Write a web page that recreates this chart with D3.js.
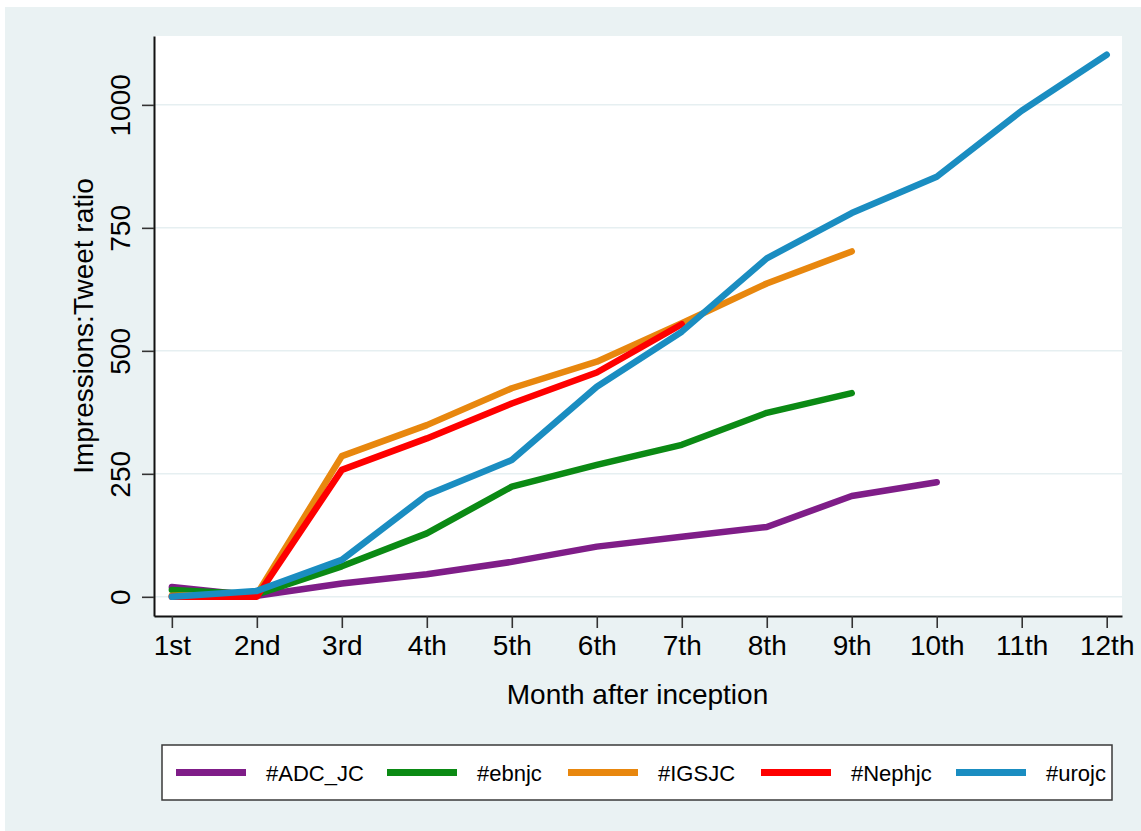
<!DOCTYPE html>
<html>
<head>
<meta charset="utf-8">
<script src="https://cdn.jsdelivr.net/npm/d3@7"></script>
<style>
    body { margin: 0; background: #fff; }
    svg { display: block; font-family: "Liberation Sans", Arial, Helvetica, sans-serif; }
    .line { fill: none; stroke-width: 6.5; stroke-linecap: round; stroke-linejoin: round; }
    .grid line { stroke: #e6eff1; stroke-width: 1.5; }
</style>
</head>
<body>
<svg id="chart" width="1141" height="831"></svg>
<script>
const months = ["1st", "2nd", "3rd", "4th", "5th", "6th", "7th", "8th", "9th", "10th", "11th", "12th"];
const yTicks = [0, 250, 500, 750, 1000];

const seriesNames = ["#ADC_JC", "#ebnjc", "#IGSJC", "#Nephjc", "#urojc"];
const seriesColors = ["#7f1d88", "#0b8a14", "#e8870e", "#fe0000", "#1a8dc1"];

const adcValues = [20, 2, 27, 46, 71, 102, 122, 142, 205, 233];
const ebnjcValues = [14, 5, 62, 129, 224, 268, 309, 374, 414];
const igsjcValues = [2, 5, 286, 349, 424, 478, 556, 637, 702];
const nephjcValues = [0, 0, 258, 322, 393, 456, 554];
const urojcValues = [0, 12, 75, 207, 278, 427, 539, 688, 780, 854, 988, 1102];

const seriesValues = [adcValues, ebnjcValues, igsjcValues, nephjcValues, urojcValues];

const svg = d3.select("#chart"),
    plot = { left: 154, right: 1122, top: 36, bottom: 616 };

// outer grey graph region
svg.append("rect")
    .attr("x", 5).attr("y", 7)
    .attr("width", 1141 - 5).attr("height", 831 - 7)
    .attr("fill", "#eaf2f3");

svg.append("rect")
    .attr("x", plot.left).attr("y", plot.top)
    .attr("width", plot.right - plot.left).attr("height", plot.bottom - plot.top)
    .attr("fill", "#fff");

const x = d3.scaleLinear()
    .domain([0.79, 12.18])
    .range([plot.left, plot.right]);

const y = d3.scaleLinear()
    .domain([-39, 1140])
    .range([plot.bottom, plot.top]);

svg.append("g")
    .attr("class", "grid")
    .selectAll("line")
    .data(yTicks)
    .join("line")
    .attr("x1", plot.left)
    .attr("x2", plot.right)
    .attr("y1", d => y(d))
    .attr("y2", d => y(d));

const line = d3.line()
    .x((d, i) => x(i + 1))
    .y(d => y(d));

seriesValues.forEach((vals, i) => {
    svg.append("path")
        .attr("class", "line")
        .attr("stroke", seriesColors[i])
        .attr("d", line(vals));
});

// axes
const xAxis = svg.append("g")
    .attr("transform", `translate(0,${plot.bottom})`)
    .call(d3.axisBottom(x)
        .tickValues(d3.range(1, 13))
        .tickFormat(d => months[d - 1])
        .tickSize(12)
        .tickSizeOuter(0)
        .tickPadding(7));

const yAxis = svg.append("g")
    .attr("transform", `translate(${plot.left},0)`)
    .call(d3.axisLeft(y)
        .tickValues(yTicks)
        .tickFormat(d3.format("d"))
        .tickSize(12)
        .tickSizeOuter(0));

[xAxis, yAxis].forEach(g => {
    g.select(".domain").attr("stroke", "#111").attr("stroke-width", 2);
    g.selectAll(".tick line").attr("stroke", "#333").attr("stroke-width", 1.6);
    g.selectAll("text")
        .attr("font-size", 28)
        .attr("fill", "#000")
        .attr("font-family", null);
    g.attr("font-family", null);
});

yAxis.selectAll("text")
    .attr("x", null)
    .attr("dy", null)
    .attr("text-anchor", "middle")
    .attr("transform", "translate(-24,0) rotate(-90)");

svg.append("text")
    .attr("transform", `translate(93,${(plot.top + plot.bottom) / 2}) rotate(-90)`)
    .attr("text-anchor", "middle")
    .attr("font-size", 28)
    .text("Impressions:Tweet ratio");

svg.append("text")
    .attr("x", 637.5)
    .attr("y", 704)
    .attr("text-anchor", "middle")
    .attr("font-size", 28)
    .text("Month after inception");

// legend
const legend = svg.append("g");

legend.append("rect")
    .attr("x", 162).attr("y", 745)
    .attr("width", 1112 - 162).attr("height", 800 - 745)
    .attr("fill", "#fff")
    .attr("stroke", "#3a3a3a")
    .attr("stroke-width", 1.5);

const legendStarts = [176, 387, 568, 761, 956];

seriesNames.forEach((name, i) => {
    const lx = legendStarts[i];
    legend.append("line")
        .attr("x1", lx).attr("x2", lx + 70)
        .attr("y1", 772.5).attr("y2", 772.5)
        .attr("stroke", seriesColors[i])
        .attr("stroke-width", 7);
    legend.append("text")
        .attr("x", lx + 90)
        .attr("y", 781)
        .attr("font-size", 22)
        .text(name);
});
</script>
</body>
</html>
